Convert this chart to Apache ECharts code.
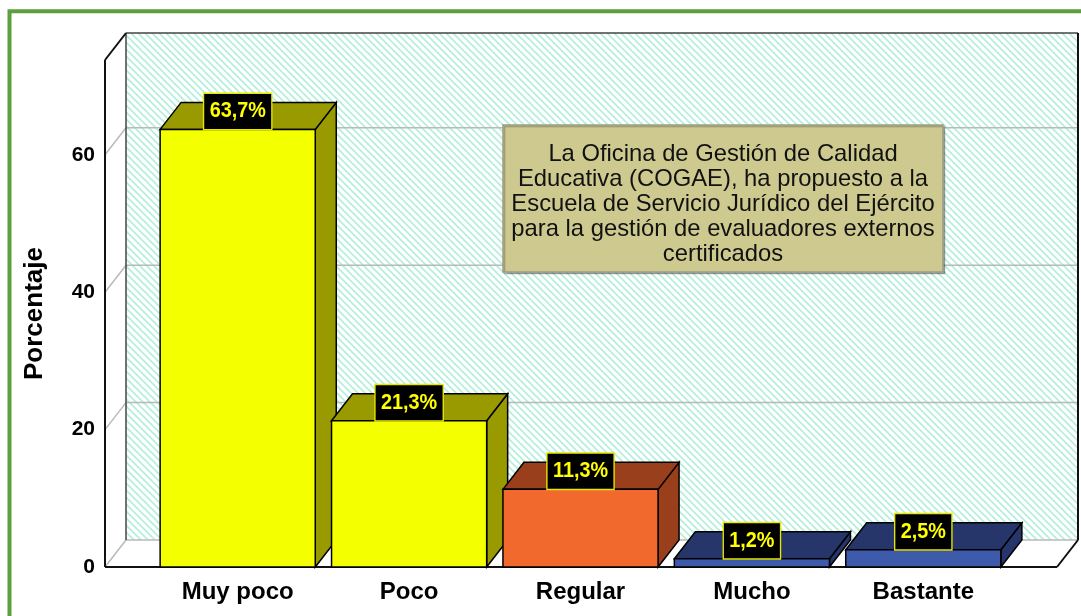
<!DOCTYPE html>
<html><head><meta charset="utf-8">
<script src="https://cdn.jsdelivr.net/npm/echarts@6/dist/echarts.min.js"></script>
<style>html,body{margin:0;padding:0;background:#fff}#c{width:1081px;height:616px}</style>
</head><body><div id="c"></div>
<script>
// ---- data ----
const categories = ['Muy poco', 'Poco', 'Regular', 'Mucho', 'Bastante'];
const values = [63.7, 21.3, 11.3, 1.2, 2.5];
const valueLabels = ['63,7%', '21,3%', '11,3%', '1,2%', '2,5%'];
const yTicks = [0, 20, 40, 60];
const yAxisName = 'Porcentaje';
const noteLines = [
  'La Oficina de Gestión de Calidad',
  'Educativa (COGAE), ha propuesto a la',
  'Escuela de Servicio Jurídico del Ejército',
  'para la gestión de evaluadores externos',
  'certificados'
];

// ---- styles ----
const FRONT = ['#f4ff00', '#f4ff00', '#f2692d', '#3e5bab', '#3e5bab'];
const SIDE = ['#999900', '#999900', '#993f1c', '#26366a', '#26366a'];
const DX = 21, DY = -27, PAD_L = 47, PAD_R = 48;
const FONT = '"Liberation Sans", Arial, sans-serif';

function makeHatch() {
  const p = 7, c = document.createElement('canvas');
  c.width = p; c.height = p;
  const g = c.getContext('2d');
  g.fillStyle = '#ffffff'; g.fillRect(0, 0, p, p);
  g.strokeStyle = '#b4efdc'; g.lineWidth = 1.7;
  for (const o of [-p, 0, p]) {
    g.beginPath(); g.moveTo(o - 1, -1); g.lineTo(o + p + 1, p + 1); g.stroke();
  }
  return c;
}
const hatch = makeHatch();

function renderWalls(params, api) {
  const cs = params.coordSys;
  const xL = cs.x - PAD_L, xR = cs.x + cs.width + PAD_R;
  const yT = cs.y, yB = api.coord([0, 0])[1];
  const ch = [];
  const line = (a, b, color, lw) => ch.push({type: 'line', shape: {x1: a[0], y1: a[1], x2: b[0], y2: b[1]}, style: {stroke: color, lineWidth: lw}});
  ch.push({type: 'polygon', shape: {points: [[xL + DX, yT + DY], [xR + DX, yT + DY], [xR + DX, yB + DY], [xL + DX, yB + DY]]},
    style: {fill: {image: hatch, repeat: 'repeat'}, stroke: null}});
  ch.push({type: 'polygon', shape: {points: [[xL, yT], [xL + DX, yT + DY], [xL + DX, yB + DY], [xL, yB]]}, style: {fill: '#fff'}});
  ch.push({type: 'polygon', shape: {points: [[xL, yB], [xL + DX, yB + DY], [xR + DX, yB + DY], [xR, yB]]}, style: {fill: '#fff'}});
  yTicks.forEach(v => {
    const y = api.coord([0, v])[1];
    line([xL + DX, y + DY], [xR + DX, y + DY], '#b9b9b9', 1.5);
    line([xL, y], [xL + DX, y + DY], '#b9b9b9', 1.5);
  });
  line([xL + DX, yT + DY], [xL + DX, yB + DY], '#444', 1.5);
  line([xL + DX, yT + DY], [xR + DX, yT + DY], '#444', 1.5);
  line([xR + DX, yT + DY], [xR + DX, yB + DY], '#111', 2);
  line([xL, yT], [xL + DX, yT + DY], '#111', 2);
  line([xL, yT], [xL, yB], '#111', 2);
  line([xL, yB], [xR, yB], '#111', 2);
  line([xR, yB], [xR + DX, yB + DY], '#111', 2);
  return {type: 'group', children: ch};
}

function renderBar(params, api) {
  const i = api.value(0), v = api.value(1);
  const top = api.coord([i, v]), base = api.coord([i, 0]);
  const w = api.size([1, 0])[0] * 0.905;
  const x0 = top[0] - w / 2, x1 = top[0] + w / 2, yT = top[1], yB = base[1];
  const st = (f) => ({fill: f, stroke: '#000', lineWidth: 1.5});
  return {type: 'group', children: [
    {type: 'polygon', shape: {points: [[x1, yT], [x1 + DX, yT + DY], [x1 + DX, yB + DY], [x1, yB]]}, style: st(SIDE[i])},
    {type: 'polygon', shape: {points: [[x0, yT], [x0 + DX, yT + DY], [x1 + DX, yT + DY], [x1, yT]]}, style: st(SIDE[i])},
    {type: 'rect', shape: {x: x0, y: yT, width: w, height: yB - yT}, style: st(FRONT[i])}
  ]};
}

function renderLabel(params, api) {
  const i = api.value(0), v = api.value(1);
  const top = api.coord([i, v]);
  return {type: 'text', x: top[0], y: top[1] - 18, scaleX: 0.9,
    style: {text: valueLabels[i], fill: '#ffff00', font: 'bold 22px ' + FONT, align: 'center', verticalAlign: 'middle',
      backgroundColor: '#000', borderColor: '#e8e800', borderWidth: 1.5, padding: [7, 6, 6, 6]}};
}

const chart = echarts.init(document.getElementById('c'));
chart.setOption({
  animation: false,
  backgroundColor: '#fff',
  grid: {left: 152, right: 72, top: 60, bottom: 49},
  xAxis: {type: 'category', data: categories,
    axisLine: {show: false}, axisTick: {show: false}, splitLine: {show: false},
    axisLabel: {color: '#000', fontWeight: 'bold', fontSize: 24, fontFamily: FONT, margin: 13}},
  yAxis: {type: 'value', min: 0, max: 73.8, interval: 20, offset: PAD_L,
    name: yAxisName, nameLocation: 'middle', nameGap: 57, nameRotate: 90,
    nameTextStyle: {color: '#000', fontWeight: 'bold', fontSize: 26, fontFamily: FONT},
    axisLine: {show: false}, axisTick: {show: false}, splitLine: {show: false},
    axisLabel: {color: '#000', fontWeight: 'bold', fontSize: 21, fontFamily: FONT, margin: 10, showMaxLabel: false, padding: [11, 0, 0, 0]}},
  series: [
    {type: 'custom', renderItem: renderWalls, data: [[0, 0]], clip: false, z: 1, silent: true},
    {type: 'custom', renderItem: renderBar, data: values.map((v, i) => [i, v]), clip: false, z: 2},
    {type: 'custom', renderItem: renderLabel, data: values.map((v, i) => [i, v]), clip: false, z: 3}
  ],
  graphic: {elements: [
    {type: 'rect', id: 'frame', x: 0, y: 0, shape: {x: 9.5, y: 11.3, width: 1300, height: 900}, style: {fill: 'rgba(0,0,0,0)', stroke: '#5c9f3e', lineWidth: 4}, z: 10, silent: true},
    {type: 'rect', id: 'noteBox', x: 0, y: 0, shape: {x: 503, y: 125, width: 440, height: 147},
      style: {fill: '#cdc98f', stroke: '#9a9a8a', lineWidth: 1.5, shadowBlur: 1, shadowOffsetX: 1.5, shadowOffsetY: 1.5, shadowColor: 'rgba(0,0,0,0.25)'}, z: 20},
    {type: 'text', id: 'noteText', x: 723, y: 204, z: 21,
      style: {text: noteLines.join('\n'), fill: '#111', font: '23.8px ' + FONT, align: 'center', verticalAlign: 'middle', lineHeight: 25}}
  ]}
});
</script>
</body></html>
